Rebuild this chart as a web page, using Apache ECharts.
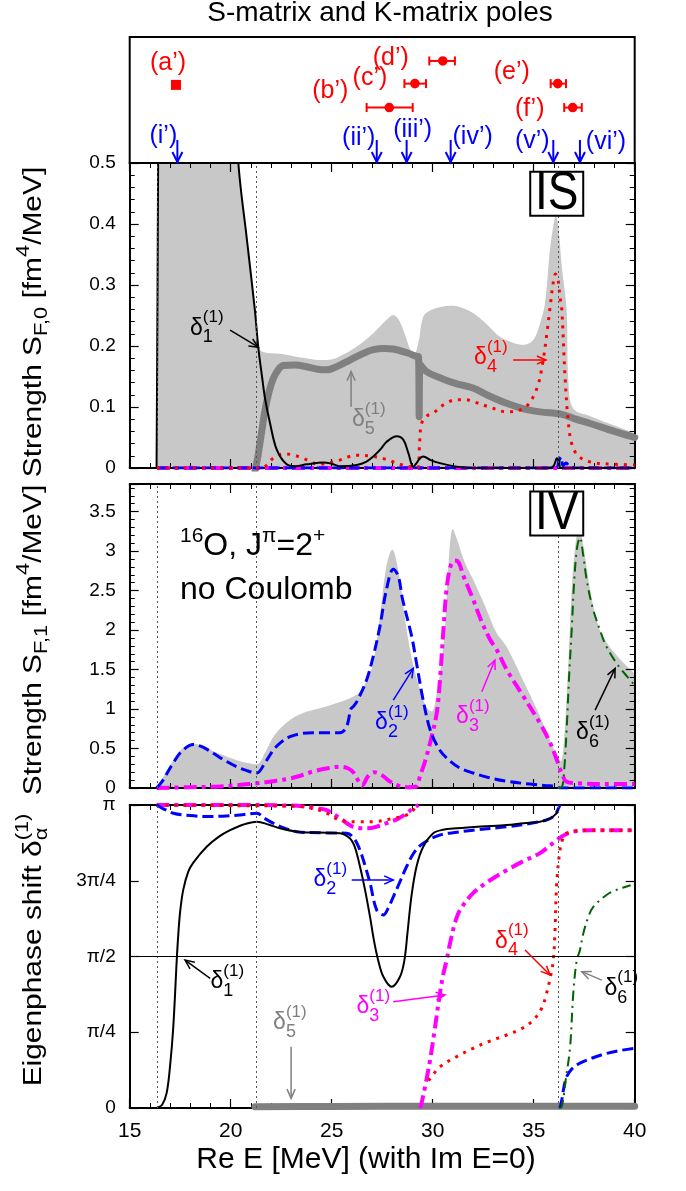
<!DOCTYPE html>
<html>
<head>
<meta charset="utf-8">
<title>S-matrix and K-matrix poles</title>
<script src="https://cdn.jsdelivr.net/npm/echarts@6.0.0/dist/echarts.min.js"></script>
<style>
html,body{margin:0;padding:0;background:#fff;}
#chart{width:686px;height:1191px;}
</style>
</head>
<body>
<div id="chart"></div>
<script>
// ================= DATA =================
const thresholds = [16.35, 21.28, 36.2];
const piTickLabels = ['0', 'π/4', 'π/2', '3π/4', 'π'];

// top panel: S-matrix poles (red) and K-matrix poles (blue)
const sPoleNames = ["(a’)", "(b’)", "(c’)", "(d’)", "(e’)", "(f’)"];
const sPoleReE   = [17.29, 27.85, 29.12, 30.50, 36.19, 36.93];
const sPoleErrLo = [17.29, 26.73, 28.60, 29.83, 35.84, 36.51];
const sPoleErrHi = [17.29, 29.01, 29.67, 31.10, 36.60, 37.38];
const sPoleRow   = [0.62, 0.44, 0.63, 0.81, 0.63, 0.44];
const kPoleNames = ["(i’)", "(ii’)", "(iii’)", "(iv’)", "(v’)", "(vi’)"];
const kPoleReE   = [17.36, 27.23, 28.71, 30.89, 35.97, 37.29];

// IS strength [fm^4/MeV]
const isTotal = [[16.30,0],[16.36,0],[16.42,0.6],[16.5,1.2],[18,1.5],[20.0,0.9],[20.38,0.5],[20.8,0.375],[21.2,0.258],[21.37,0.2],[21.6,0.19],[22.5,0.187],[23.5,0.181],[24.42,0.177],[25.0,0.178],[25.41,0.183],[26.24,0.199],[27.06,0.221],[27.72,0.243],[28.05,0.251],[28.3,0.244],[28.55,0.226],[28.88,0.194],[29.04,0.183],[29.29,0.205],[29.53,0.248],[29.87,0.258],[30.36,0.264],[31.02,0.266],[31.5,0.262],[32.0,0.254],[32.7,0.235],[33.33,0.215],[34.0,0.205],[34.49,0.202],[34.98,0.21],[35.31,0.237],[35.56,0.27],[35.8,0.357],[35.97,0.396],[36.1,0.413],[36.22,0.396],[36.39,0.33],[36.63,0.259],[36.72,0.14],[36.96,0.097],[37.8,0.085],[38.8,0.072],[40,0.057]];
const isDelta1 = [[16.33,0],[16.38,0.3],[16.45,0.8],[16.6,1.5],[18,1.8],[19.5,1.2],[20.0,0.75],[20.38,0.5],[20.8,0.375],[21.2,0.258],[21.37,0.196],[21.55,0.15],[21.7,0.114],[21.95,0.073],[22.28,0.03],[22.77,0.006],[23.2,0.003],[23.76,0.006],[24.59,0.009],[25.0,0.007],[25.41,0.003],[26.24,0.005],[26.7,0.01],[27.06,0.019],[27.4,0.03],[27.72,0.043],[28.22,0.052],[28.55,0.046],[28.8,0.024],[29.04,0.002],[29.2,0.008],[29.37,0.016],[29.53,0.019],[29.9,0.013],[30.36,0.008],[31.19,0.002],[32,0],[35.8,0],[36.0,0.004],[36.15,0.016],[36.25,0.01],[36.35,0],[40,0]];
const isDelta2 = [[16.35,0],[36.1,0],[36.25,0.012],[36.35,0.018],[36.45,0.004],[36.6,0.008],[36.8,0.002],[37.2,0],[40,0]];
const isDelta3 = [[16.35,0],[40,0]];
const isDelta4 = [[16.35,0],[21.5,0],[21.8,0.005],[22.1,0.016],[22.6,0.023],[23.0,0.022],[23.43,0.018],[24.0,0.01],[24.3,0.006],[24.8,0.008],[25.41,0.013],[25.8,0.018],[26.23,0.021],[27.06,0.019],[27.6,0.015],[28.05,0.01],[28.5,0.005],[28.88,0.002],[29.25,0.0],[29.35,0.04],[29.45,0.073],[29.7,0.085],[30.03,0.09],[30.6,0.105],[31.19,0.112],[31.6,0.112],[32.0,0.109],[32.8,0.1],[33.66,0.092],[34.32,0.095],[34.7,0.103],[34.98,0.117],[35.25,0.14],[35.47,0.177],[35.65,0.22],[35.8,0.26],[35.95,0.3],[36.08,0.318],[36.2,0.31],[36.3,0.28],[36.39,0.26],[36.55,0.15],[36.7,0.08],[36.88,0.04],[37.2,0.02],[37.79,0.01],[38.5,0.007],[40,0.005]];
const isDelta5 = [[21.2,-0.006],[21.35,0.02],[21.5,0.052],[21.7,0.095],[21.9,0.125],[22.1,0.146],[22.35,0.161],[22.6,0.168],[23.2,0.169],[23.76,0.166],[24.3,0.162],[24.75,0.161],[25.3,0.167],[25.9,0.177],[26.5,0.187],[27.06,0.194],[27.6,0.196],[28.05,0.195],[28.71,0.189],[29.2,0.183],[29.3,0.182],[29.33,0.084],[29.37,0.17],[29.7,0.158],[30.5,0.146],[31.2,0.138],[32.0,0.131],[32.8,0.118],[33.66,0.106],[34.5,0.097],[35.31,0.092],[36.39,0.088],[37.0,0.081],[37.79,0.073],[38.8,0.062],[40,0.05]];

// IV strength [fm^4/MeV]
const ivTotal = [[16.33,0],[16.8,0.2],[17.16,0.35],[17.6,0.5],[18.15,0.56],[18.7,0.52],[19.3,0.45],[20.0,0.38],[20.6,0.33],[21.29,0.3],[21.7,0.45],[22.2,0.68],[22.93,0.86],[23.5,0.94],[24.09,0.99],[24.8,1.04],[25.41,1.09],[26.0,1.15],[26.4,1.22],[26.8,1.4],[27.06,1.58],[27.4,2.2],[27.7,2.8],[28.0,3.02],[28.3,2.75],[28.71,2.0],[29.0,1.6],[29.37,1.25],[29.7,1.02],[29.95,0.97],[30.2,1.2],[30.45,1.63],[30.6,2.0],[30.8,2.9],[31.0,3.28],[31.2,3.15],[31.6,2.85],[32.0,2.64],[32.6,2.3],[33.17,1.96],[33.66,1.79],[34.5,1.35],[35.31,0.91],[35.9,0.55],[36.25,0.36],[36.35,0.34],[36.5,0.6],[36.7,1.5],[36.9,2.6],[37.1,3.15],[37.26,3.29],[37.5,3.0],[37.8,2.5],[38.2,2.05],[38.6,1.85],[39.1,1.68],[39.5,1.57],[40,1.45]];
const ivDelta2 = [[16.33,0],[16.6,0.08],[17.16,0.32],[17.6,0.47],[18.15,0.55],[18.6,0.52],[19.14,0.44],[19.7,0.35],[20.3,0.27],[20.8,0.22],[21.29,0.19],[21.7,0.32],[22.11,0.48],[22.5,0.58],[22.94,0.65],[23.5,0.69],[24.09,0.70],[24.8,0.70],[25.41,0.70],[25.74,0.78],[25.95,1.0],[26.1,1.04],[26.3,1.12],[26.73,1.37],[27.06,1.67],[27.39,2.05],[27.7,2.5],[28.05,2.77],[28.3,2.68],[28.5,2.4],[28.96,1.92],[29.2,1.58],[29.5,1.15],[29.87,0.74],[30.3,0.5],[30.69,0.38],[31.3,0.26],[32.0,0.19],[32.8,0.13],[33.66,0.085],[34.8,0.05],[35.6,0.03],[36.14,0.02],[36.3,0.0],[40,0.0]];
const ivDelta3 = [[16.33,0],[18.0,0.01],[19.5,0.02],[20.5,0.04],[21.29,0.06],[22.2,0.09],[22.93,0.12],[23.5,0.16],[24.09,0.21],[24.8,0.25],[25.41,0.27],[25.8,0.25],[26.07,0.2],[26.3,0.1],[26.5,0.03],[26.8,0.15],[27.1,0.2],[27.5,0.16],[27.9,0.08],[28.3,0.03],[28.8,0.01],[29.2,0.02],[29.37,0.15],[29.6,0.32],[29.87,0.57],[30.2,0.95],[30.36,1.37],[30.53,2.0],[30.7,2.55],[30.9,2.82],[31.1,2.88],[31.3,2.85],[31.5,2.7],[32.0,2.39],[32.4,2.12],[32.84,1.88],[33.17,1.75],[33.66,1.5],[34.49,1.16],[35.31,0.82],[35.8,0.58],[36.14,0.36],[36.4,0.18],[36.63,0.08],[37.2,0.06],[38.6,0.05],[40,0.05]];
const ivDelta6 = [[36.2,0],[36.39,0.01],[36.5,0.2],[36.63,0.74],[36.75,1.4],[36.88,2.0],[37.0,2.6],[37.15,3.05],[37.29,3.17],[37.45,2.95],[37.62,2.64],[37.9,2.3],[38.28,2.0],[38.6,1.79],[39.1,1.58],[39.5,1.45],[40,1.3]];

// eigenphase shifts, in units of π
const phDelta1 = [[16.33,0],[16.6,0.01],[16.83,0.05],[17.0,0.14],[17.16,0.27],[17.33,0.49],[17.41,0.577],[17.5,0.65],[17.65,0.72],[17.9,0.78],[18.15,0.81],[18.81,0.862],[19.4,0.895],[19.97,0.917],[20.6,0.935],[21.29,0.945],[21.9,0.935],[22.44,0.923],[23.27,0.912],[24.3,0.909],[25.41,0.907],[25.9,0.89],[26.15,0.86],[26.4,0.797],[26.65,0.72],[26.9,0.63],[27.1,0.55],[27.3,0.488],[27.56,0.433],[27.97,0.40],[28.38,0.433],[28.6,0.488],[28.75,0.577],[28.95,0.7],[29.2,0.797],[29.53,0.862],[30.03,0.907],[30.5,0.918],[31.19,0.923],[32.4,0.929],[33.66,0.934],[34.5,0.94],[35.31,0.945],[35.8,0.955],[36.14,0.973],[36.2,0.985]];
const phDelta2 = [[16.33,1.0],[16.6,0.99],[17.16,0.973],[18.0,0.965],[18.81,0.962],[19.6,0.963],[20.46,0.967],[21.29,0.973],[21.7,0.955],[22.1,0.94],[22.6,0.925],[23.27,0.912],[24.5,0.908],[25.74,0.907],[26.1,0.89],[26.4,0.851],[26.65,0.8],[26.9,0.742],[27.23,0.653],[27.56,0.637],[27.8,0.66],[28.05,0.697],[28.4,0.75],[28.71,0.797],[29.1,0.845],[29.53,0.874],[30.36,0.901],[31.2,0.91],[32.0,0.917],[33.66,0.928],[35.31,0.945],[35.8,0.955],[36.05,0.967],[36.2,0.985],[36.3,1.0],[36.3,null],[36.3,0],[36.39,0.026],[36.5,0.07],[36.63,0.103],[36.9,0.13],[37.29,0.148],[37.9,0.165],[38.6,0.18],[39.3,0.19],[40,0.197]];
const phDelta3 = [[16.33,1.0],[20,1.0],[23,0.998],[24.2,0.99],[24.75,0.983],[25.41,0.956],[26.07,0.928],[26.73,0.923],[27.2,0.928],[27.72,0.94],[28.3,0.955],[28.71,0.973],[29.0,0.988],[29.29,1.0],[29.33,null],[29.38,0],[29.45,0.016],[29.65,0.08],[29.87,0.158],[30.1,0.26],[30.36,0.379],[30.52,0.44],[30.69,0.488],[30.86,0.544],[31.1,0.61],[31.35,0.653],[32.0,0.709],[32.8,0.75],[33.66,0.785],[34.5,0.815],[35.31,0.841],[36.14,0.884],[36.5,0.9],[36.96,0.912],[37.8,0.917],[38.6,0.917],[40,0.917]];
const phDelta4 = [[16.33,1.0],[20,0.998],[23.5,0.995],[24.3,0.985],[24.75,0.973],[25.41,0.95],[26.23,0.945],[27.06,0.945],[28.05,0.956],[28.71,0.967],[29.0,0.98],[29.2,1.0],[29.5,null],[29.8,0.09],[30.36,0.136],[31.2,0.17],[32.0,0.197],[32.8,0.22],[33.66,0.241],[34.4,0.262],[34.98,0.29],[35.4,0.33],[35.64,0.379],[35.85,0.44],[35.97,0.488],[36.05,0.577],[36.14,0.742],[36.3,0.851],[36.45,0.89],[36.63,0.907],[37.2,0.915],[37.79,0.917],[40,0.917]];
const phDelta5 = [[21.2,0.004],[25,0.005],[30,0.006],[35,0.006],[36.2,0.006],[40,0.006]];
const phDelta6 = [[36.25,0],[36.39,0.004],[36.6,0.1],[36.8,0.2],[36.96,0.379],[37.13,0.488],[37.29,0.521],[37.46,0.577],[37.7,0.63],[37.95,0.664],[38.6,0.703],[39.1,0.72],[39.6,0.731],[39.8,0.735]];

// annotation anchors, in data coordinates of each panel (1 = IS, 2 = IV, 3 = phase)
const deltaLabels = [
  {g:1, x:18.31, y:0.229,  n:'1', color:'#000000'},
  {g:1, x:26.33, y:0.0788, n:'5', color:'#808080'},
  {g:1, x:32.37, y:0.1805, n:'4', color:'#ff0000'},
  {g:2, x:27.47, y:0.823,  n:'2', color:'#0000ff'},
  {g:2, x:31.48, y:0.899,  n:'3', color:'#ff00ff'},
  {g:2, x:37.42, y:0.696,  n:'6', color:'#000000'},
  {g:3, x:24.42, y:0.7525, n:'2', color:'#0000ff'},
  {g:3, x:33.41, y:0.5495, n:'4', color:'#ff0000'},
  {g:3, x:19.32, y:0.416,  n:'1', color:'#000000'},
  {g:3, x:26.55, y:0.3333, n:'3', color:'#ff00ff'},
  {g:3, x:38.83, y:0.394,  n:'6', color:'#000000'},
  {g:3, x:22.42, y:0.2805, n:'5', color:'#808080'}
];
const arrows = [
  {g:1, from:[19.97,0.226],  to:[21.37,0.198], color:'#000000'},
  {g:1, from:[25.96,0.1006], to:[25.96,0.158], color:'#808080'},
  {g:1, from:[33.98,0.177],  to:[35.61,0.177], color:'#ff0000'},
  {g:2, from:[28.05,1.114],  to:[29.04,1.515], color:'#0000ff'},
  {g:2, from:[32.43,1.219],  to:[33.08,1.62],  color:'#ff00ff'},
  {g:2, from:[38.04,0.987],  to:[39.03,1.515], color:'#000000'},
  {g:3, from:[25.99,0.7525], to:[28.05,0.7525], color:'#0000ff'},
  {g:3, from:[34.57,0.5215], to:[35.81,0.439], color:'#ff0000'},
  {g:3, from:[18.98,0.428],  to:[17.74,0.488], color:'#000000'},
  {g:3, from:[28.05,0.351],  to:[30.61,0.373], color:'#ff00ff'},
  {g:3, from:[38.37,0.422],  to:[37.38,0.45],  color:'#808080'},
  {g:3, from:[22.99,0.202],  to:[22.99,0.032], color:'#808080'}
];
const boxLabels = [
  {g:1, x:36.14, y:0.4496, text:'IS'},
  {g:2, x:36.14, y:3.477,  text:'IV'}
];
const nucleusLabelPos = {g:2, x:17.49, y1:3.057, y2:2.50};

// ================= STYLE / LAYOUT =================
const FONT = "'Liberation Sans', Arial, Helvetica, sans-serif";
const RED = '#ff0000', BLUE = '#0000ff';
const SMOOTH = 0.35;
const sPoleMarker = ['square','circle','circle','circle','circle','circle'];
const sLabelOffset = [[-8,-22],[-59,-16],[-45,-6],[-52,-3],[-46,-12],[-43,2]];
const kLabelOffset = [[-14,-27],[-18,-25],[6,-32.5],[22,-26],[-21,-22],[26,-20.5]];
const ST = {
  d1:{color:'#000000', width:2},
  d2:{color:'#0000ff', width:3, type:[11,5]},
  d3:{color:'#ff00ff', width:4, type:[13,5,4,5]},
  d4:{color:'#ff0000', width:3, type:[3,6]},
  d5:{color:'#808080', width:7, cap:'round'},
  d6:{color:'#006400', width:2, type:[10,5,2,5]}
};
const GRID_LEFT = 129.7, GRID_WIDTH = 505;
const panels = [
  {top:37,  height:126},
  {top:163, height:305, min:0, max:0.5,  interval:0.1,  minor:5},
  {top:484, height:304, min:0, max:3.85, interval:0.5,  minor:5, hideMax:true},
  {top:805, height:303, min:0, max:1,    interval:0.25, minor:0, pi:true}
];

const chart = echarts.init(document.getElementById('chart'), null, {renderer:'canvas', width:686, height:1191});

const grid = panels.map((p, i) => ({
  left: GRID_LEFT, top: p.top, width: GRID_WIDTH, height: p.height,
  show: i === 0, borderColor: '#000', borderWidth: 2, backgroundColor: 'transparent',
  containLabel: false, outerBoundsMode: 'none'
}));

const xAxis = [{type:'value', gridIndex:0, min:15, max:40, show:false}];
const yAxis = [{type:'value', gridIndex:0, min:0, max:1, show:false}];
for (let g = 1; g <= 3; g++) {
  const p = panels[g];
  ['bottom', 'top'].forEach(pos => {
    xAxis.push({
      type:'value', gridIndex:g, position:pos, min:15, max:40, interval:5, z:2,
      axisLine:{show:true, onZero:false, lineStyle:{color:'#000', width:2}},
      axisTick:{show:true, inside:true, length:9, lineStyle:{color:'#000', width:1.2}},
      minorTick:{show:true, splitNumber:5, length:5, lineStyle:{color:'#000', width:1}},
      splitLine:{show:false}, minorSplitLine:{show:false},
      axisLabel:{show: g === 3 && pos === 'bottom', color:'#000', fontSize:21, fontFamily:FONT, margin:13}
    });
  });
  ['left', 'right'].forEach(pos => {
    yAxis.push({
      type:'value', gridIndex:g, position:pos, min:p.min, max:p.max, interval:p.interval, z:2,
      axisLine:{show:true, onZero:false, lineStyle:{color:'#000', width:2}},
      axisTick:{show:true, inside:true, length:9, lineStyle:{color:'#000', width:1.2}},
      minorTick:{show:p.minor > 0, splitNumber:p.minor || 5, length:5, lineStyle:{color:'#000', width:1}},
      splitLine:{show:false}, minorSplitLine:{show:false},
      axisLabel:{show: pos === 'left', color:'#000', fontSize:19, fontFamily:FONT, margin:14,
        showMaxLabel: !p.hideMax,
        formatter: p.pi ? (v => piTickLabels[Math.round(v * 4)]) : (v => String(+(+v).toFixed(2)))}
    });
  });
}

function lineSeries(g, data, st, extra) {
  return Object.assign({
    type:'line', xAxisIndex:2*g-1, yAxisIndex:2*g-1, data, symbol:'none', showSymbol:false,
    smooth:SMOOTH, connectNulls:false, silent:true, animation:false, z:3, clip:true,
    lineStyle:{color:st.color, width:st.width, type:st.type || 'solid', cap:st.cap || 'butt', join:'round'}
  }, extra || {});
}
function thresholdLines(extraData) {
  return {
    silent:true, symbol:['none','none'], label:{show:false}, animation:false,
    lineStyle:{color:'#555', width:1, type:[2,3]},
    data: thresholds.map(t => ({xAxis:t})).concat(extraData || [])
  };
}
function fillSeries(g, data) {
  return {
    type:'line', xAxisIndex:2*g-1, yAxisIndex:2*g-1, data, symbol:'none', showSymbol:false,
    smooth:SMOOTH, silent:true, animation:false, z:1, clip:true,
    lineStyle:{width:0, color:'#c8c8c8'}, areaStyle:{color:'#c8c8c8', opacity:1},
    markLine: thresholdLines()
  };
}

const series = [
  // top panel: S-matrix poles with error bars
  {
    type:'custom', xAxisIndex:0, yAxisIndex:0, silent:true, z:5, animation:false,
    data: sPoleReE.map((x, i) => [x, sPoleRow[i], sPoleErrLo[i], sPoleErrHi[i], i]),
    renderItem(params, api) {
      const i = api.value(4);
      const c = api.coord([api.value(0), api.value(1)]);
      const lo = api.coord([api.value(2), api.value(1)]);
      const hi = api.coord([api.value(3), api.value(1)]);
      const ch = [];
      if (hi[0] - lo[0] > 1) {
        ch.push({type:'line', shape:{x1:lo[0], y1:c[1], x2:hi[0], y2:c[1]}, style:{stroke:RED, lineWidth:2}});
        ch.push({type:'line', shape:{x1:lo[0], y1:c[1]-4.5, x2:lo[0], y2:c[1]+4.5}, style:{stroke:RED, lineWidth:2}});
        ch.push({type:'line', shape:{x1:hi[0], y1:c[1]-4.5, x2:hi[0], y2:c[1]+4.5}, style:{stroke:RED, lineWidth:2}});
      }
      if (sPoleMarker[i] === 'square') {
        ch.push({type:'rect', shape:{x:c[0]-5, y:c[1]-5, width:10, height:10}, style:{fill:RED}});
      } else {
        ch.push({type:'circle', shape:{cx:c[0], cy:c[1], r:4.8}, style:{fill:RED}});
      }
      const o = sLabelOffset[i];
      ch.push({type:'text', x:c[0]+o[0], y:c[1]+o[1],
        style:{text:sPoleNames[i], fill:RED, fontSize:25, fontFamily:FONT, align:'center', verticalAlign:'middle'}});
      return {type:'group', children:ch};
    }
  },
  // top panel: K-matrix poles as arrows
  {
    type:'custom', xAxisIndex:0, yAxisIndex:0, silent:true, z:5, animation:false,
    data: kPoleReE.map((x, i) => [x, i]),
    renderItem(params, api) {
      const i = api.value(1);
      const top = api.coord([api.value(0), 0.183]);
      const tip = api.coord([api.value(0), 0.0]);
      tip[1] -= 1;
      const o = kLabelOffset[i];
      return {type:'group', children:[
        {type:'line', shape:{x1:top[0], y1:top[1], x2:tip[0], y2:tip[1]}, style:{stroke:BLUE, lineWidth:2}},
        {type:'polyline', shape:{points:[[tip[0]-5, tip[1]-10], [tip[0], tip[1]], [tip[0]+5, tip[1]-10]]}, style:{stroke:BLUE, lineWidth:2, fill:null}},
        {type:'text', x:tip[0]+o[0], y:tip[1]+1+o[1],
          style:{text:kPoleNames[i], fill:BLUE, fontSize:25, fontFamily:FONT, align:'center', verticalAlign:'middle'}}
      ]};
    }
  },
  // IS panel
  fillSeries(1, isTotal),
  lineSeries(1, isDelta5, ST.d5),
  lineSeries(1, isDelta3, ST.d3),
  lineSeries(1, isDelta2, ST.d2),
  lineSeries(1, isDelta4, ST.d4),
  lineSeries(1, isDelta1, ST.d1),
  // IV panel
  fillSeries(2, ivTotal),
  lineSeries(2, ivDelta3, ST.d3),
  lineSeries(2, ivDelta2, ST.d2),
  lineSeries(2, ivDelta6, ST.d6),
  // phase panel
  lineSeries(3, phDelta5, ST.d5, {z:2.5, markLine: thresholdLines([{yAxis:0.5, lineStyle:{color:'#000', width:1, type:'solid'}}])}),
  lineSeries(3, phDelta3, ST.d3),
  lineSeries(3, phDelta4, ST.d4),
  lineSeries(3, phDelta2, ST.d2),
  lineSeries(3, phDelta6, ST.d6),
  lineSeries(3, phDelta1, ST.d1)
];

chart.setOption({animation:false, backgroundColor:'#ffffff', grid, xAxis, yAxis, series});

// ================= ANNOTATIONS =================
const ctx = document.createElement('canvas').getContext('2d');
function tw(t, s) { ctx.font = s + 'px ' + FONT; return ctx.measureText(t).width; }
function P(g, x, y) { return chart.convertToPixel({xAxisIndex:2*g-1, yAxisIndex:2*g-1}, [x, y]); }

// text made of runs (with sub/superscripts); parts with hold:true do not advance (stacked)
function runs(parts, opts) {
  let cx = 0, held = 0;
  const kids = [];
  parts.forEach(p => {
    const w = tw(p.t, p.s);
    kids.push({type:'text', x:cx, y:p.dy || 0, z:100,
      style:{text:p.t, fontSize:p.s, fontFamily:FONT, fill:p.color || opts.color, align:'left', verticalAlign:'middle'}});
    if (p.hold) { held = Math.max(held, w); }
    else { cx += Math.max(w, held); held = 0; }
  });
  const total = cx + held;
  const shift = opts.align === 'center' ? -total / 2 : 0;
  kids.forEach(k => { k.x += shift; });
  return {type:'group', x:opts.x, y:opts.y, rotation:opts.rotation || 0,
    scaleX:opts.scaleX || 1, scaleY:opts.scaleY || 1, z:100, children:kids};
}
function arrow(p1, p2, color, w) {
  const dx = p2[0]-p1[0], dy = p2[1]-p1[1], len = Math.hypot(dx, dy);
  const ux = dx/len, uy = dy/len, hl = 10, a = 0.42, ca = Math.cos(a), sa = Math.sin(a);
  const h1 = [p2[0] - hl*(ux*ca - uy*sa), p2[1] - hl*(ux*sa + uy*ca)];
  const h2 = [p2[0] - hl*(ux*ca + uy*sa), p2[1] - hl*(-ux*sa + uy*ca)];
  return [
    {type:'line', z:100, shape:{x1:p1[0], y1:p1[1], x2:p2[0], y2:p2[1]}, style:{stroke:color, lineWidth:w}},
    {type:'polyline', z:100, shape:{points:[h1, p2, h2]}, style:{stroke:color, lineWidth:w, fill:null}}
  ];
}

const graphic = [];
// title & x-axis name
graphic.push({type:'text', x:380, y:13, z:100, style:{text:'S-matrix and K-matrix poles', fontSize:28, fontFamily:FONT, fill:'#000', align:'center', verticalAlign:'middle'}});
graphic.push({type:'text', x:366, y:1160, z:100, style:{text:'Re E [MeV] (with Im E=0)', fontSize:30, fontFamily:FONT, fill:'#000', align:'center', verticalAlign:'middle'}});
// y-axis names (rotated)
graphic.push(runs([{t:'Strength S', s:26}, {t:'F,0', s:19, dy:8}, {t:' [fm', s:26}, {t:'4', s:19, dy:-10}, {t:'/MeV]', s:26}],
  {x:34, y:322, rotation:Math.PI/2, align:'center', color:'#000', scaleX:1.15}));
graphic.push(runs([{t:'Strength S', s:26}, {t:'F,1', s:19, dy:8}, {t:' [fm', s:26}, {t:'4', s:19, dy:-10}, {t:'/MeV]', s:26}],
  {x:34, y:640, rotation:Math.PI/2, align:'center', color:'#000', scaleX:1.15}));
graphic.push(runs([{t:'Eigenphase shift δ', s:26}, {t:'α', s:19, dy:8, hold:true}, {t:'(1)', s:19, dy:-11}],
  {x:34, y:950, rotation:Math.PI/2, align:'center', color:'#000', scaleX:1.15}));

// δ labels
deltaLabels.forEach(d => {
  const p = P(d.g, d.x, d.y);
  graphic.push(runs([{t:'δ', s:23}, {t:d.n, s:18, dy:9, hold:true}, {t:'(1)', s:17, dy:-11}],
    {x:p[0]-6.5, y:p[1], color:d.color}));
});
arrows.forEach(a => {
  arrow(P(a.g, a.from[0], a.from[1]), P(a.g, a.to[0], a.to[1]), a.color, 1.5).forEach(e => graphic.push(e));
});
boxLabels.forEach(b => {
  const p = P(b.g, b.x, b.y);
  graphic.push({type:'rect', z:100, shape:{x:p[0]-26.5, y:p[1]-22, width:53, height:44}, style:{fill:'#fff', stroke:'#000', lineWidth:2}});
  graphic.push({type:'text', z:101, x:p[0], y:p[1]+1, scaleY:1.15, style:{text:b.text, fontSize:46, fontFamily:FONT, fill:'#000', align:'center', verticalAlign:'middle'}});
});
// nucleus label
{
  const p1 = P(nucleusLabelPos.g, nucleusLabelPos.x, nucleusLabelPos.y1);
  const p2 = P(nucleusLabelPos.g, nucleusLabelPos.x, nucleusLabelPos.y2);
  graphic.push(runs([{t:'16', s:21, dy:-10}, {t:'O, J', s:32}, {t:'π', s:21, dy:-10}, {t:'=2', s:32}, {t:'+', s:21, dy:-10}],
    {x:p1[0], y:p1[1], color:'#000'}));
  graphic.push({type:'text', z:100, x:p2[0], y:p2[1], style:{text:'no Coulomb', fontSize:32, fontFamily:FONT, fill:'#000', align:'left', verticalAlign:'middle'}});
}

chart.setOption({graphic});
</script>
</body>
</html>
